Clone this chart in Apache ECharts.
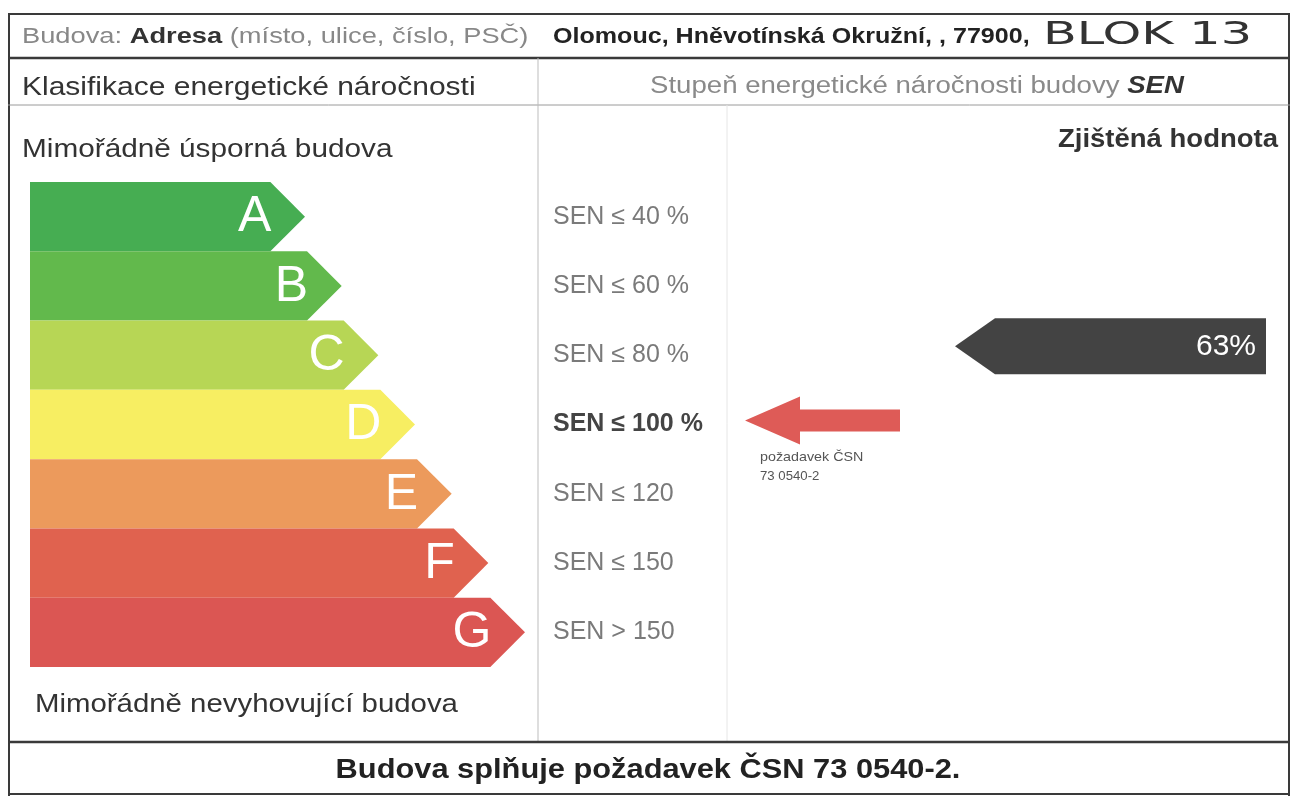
<!DOCTYPE html>
<html>
<head>
<meta charset="utf-8">
<script src="https://cdn.jsdelivr.net/npm/echarts@6/dist/echarts.min.js"></script>
<style>
  html, body { margin: 0; padding: 0; background: #fff; }
  #chart { width: 1296px; height: 796px; }
</style>
</head>
<body>
<div id="chart"></div>
<script>
// energeticke tridy a jejich hranice
var classes = ['A', 'B', 'C', 'D', 'E', 'F', 'G'];
var barSteps = [1, 2, 3, 4, 5, 6, 7];
var senLabels = ['SEN ≤ 40 %', 'SEN ≤ 60 %', 'SEN ≤ 80 %', 'SEN ≤ 100 %', 'SEN ≤ 120', 'SEN ≤ 150', 'SEN > 150'];
var barColors = ['#46ad52', '#62b94c', '#b7d655', '#f7ee62', '#ec9a5c', '#e0624f', '#db5653'];
var requiredClass = 3;      // D = pozadavek CSN
var measuredValue = 63;     // zjistena hodnota v %
var measuredClass = 2;      // C

var font = 'Liberation Sans';
var lineCol = '#3a3a3a';

var chart = echarts.init(document.getElementById('chart'));

function line(x1, y1, x2, y2, w, c) {
  return { type: 'line', shape: { x1: x1, y1: y1, x2: x2, y2: y2 }, style: { stroke: c || lineCol, lineWidth: w || 2 }, silent: true };
}
function txt(x, y, t, size, opt) {
  opt = opt || {};
  return {
    type: 'text', x: x, y: y, silent: true,
    style: {
      text: t, fontSize: size, fontFamily: opt.family || font,
      fontWeight: opt.bold ? 'bold' : 'normal', fontStyle: opt.italic ? 'italic' : 'normal',
      fill: opt.color || '#333', align: opt.align || 'left', verticalAlign: 'middle'
    },
    scaleX: opt.scaleX || 1
  };
}

chart.setOption({
  animation: false,
  textStyle: { fontFamily: font },
  grid: { left: 30, top: 182, width: 495, height: 485 },
  xAxis: { type: 'value', min: -6.5, max: 7, show: false },
  yAxis: {
    type: 'category', data: classes, inverse: true, position: 'right',
    axisLine: { show: false }, axisTick: { show: false }, splitLine: { show: false },
    axisLabel: {
      margin: 28, align: 'left', fontSize: 25, color: '#7a7a7a',
      formatter: function (v, i) {
        return i === requiredClass ? '{b|' + senLabels[i] + '}' : senLabels[i];
      },
      rich: { b: { fontSize: 25, fontWeight: 'bold', color: '#444' } }
    }
  },
  series: [
    {
      type: 'custom',
      encode: { x: 1, y: 0 },
      data: classes.map(function (c, i) { return [i, barSteps[i]]; }),
      renderItem: function (params, api) {
        var idx = api.value(0);
        var start = api.coord([-6.5, idx]);
        var end = api.coord([api.value(1), idx]);
        var h = api.size([0, 1])[1];
        var cy = start[1], y0 = cy - h / 2, y1 = cy + h / 2, d = h / 2;
        return {
          type: 'group',
          children: [
            {
              type: 'polygon',
              shape: { points: [[start[0], y0], [end[0] - d, y0], [end[0], cy], [end[0] - d, y1], [start[0], y1]] },
              style: { fill: barColors[idx] }
            },
            {
              type: 'text',
              style: {
                text: classes[idx], x: end[0] - d + 1, y: cy + 1,
                fill: '#fff', fontSize: 50, fontFamily: font,
                align: 'right', verticalAlign: 'middle'
              }
            }
          ]
        };
      }
    },
    {
      // cervena sipka - pozadavek
      type: 'custom',
      encode: { x: 1, y: 0 },
      data: [[requiredClass, 0]],
      renderItem: function (params, api) {
        var cy = api.coord([0, api.value(0)])[1] - 4;
        var tip = 745, base = 800, end = 900;
        return {
          type: 'group',
          children: [
            {
              type: 'polygon',
              shape: { points: [[tip, cy], [base, cy - 24], [base, cy - 11], [end, cy - 11], [end, cy + 11], [base, cy + 11], [base, cy + 24]] },
              style: { fill: '#de5b57' }
            },
            { type: 'text', x: 760, y: cy + 37, scaleX: 1.1, style: { text: 'požadavek ČSN', fontSize: 13, fontFamily: font, fill: '#555', verticalAlign: 'middle' } },
            { type: 'text', x: 760, y: cy + 56, scaleX: 1.1, style: { text: '73 0540-2', fontSize: 12, fontFamily: font, fill: '#555', verticalAlign: 'middle' } }
          ]
        };
      }
    },
    {
      // cerna sipka - zjistena hodnota
      type: 'custom',
      encode: { x: 1, y: 0 },
      data: [[measuredClass, measuredValue]],
      renderItem: function (params, api) {
        var cy = api.coord([0, api.value(0)])[1] - 9;
        var tip = 955, base = 995, end = 1266, h = 28;
        return {
          type: 'group',
          children: [
            {
              type: 'polygon',
              shape: { points: [[tip, cy], [base, cy - h], [end, cy - h], [end, cy + h], [base, cy + h]] },
              style: { fill: '#434343' }
            },
            { type: 'text', style: { text: api.value(1) + '%', x: 1256, y: cy + 1, fontSize: 30, fontFamily: font, fill: '#fff', align: 'right', verticalAlign: 'middle' } }
          ]
        };
      }
    }
  ],
  graphic: [
    // ramecek tabulky
    line(8, 14, 1290, 14, 2),
    line(9, 14, 9, 796, 2),
    line(1289, 14, 1289, 796, 2),
    line(8, 58, 1290, 58, 2.5),
    line(8, 105, 1290, 105, 1, '#9a9a9a'),
    line(538, 58, 538, 742, 1, '#bdbdbd'),
    line(727, 105, 727, 742, 1, '#e6e6e6'),
    line(8, 742, 1290, 742, 2.5),
    line(8, 794, 1290, 794, 2),
    // hlavicka
    {
      type: 'text', x: 22, y: 37, silent: true, scaleX: 1.24,
      style: {
        text: '{g|Budova: }{b|Adresa}{g| (místo, ulice, číslo, PSČ)}',
        verticalAlign: 'middle', fontFamily: font,
        rich: {
          g: { fontSize: 22, fill: '#888', fontFamily: font },
          b: { fontSize: 22, fill: '#333', fontWeight: 'bold', fontFamily: font }
        }
      }
    },
    txt(553, 37, 'Olomouc, Hněvotínská Okružní, , 77900,', 22, { bold: true, color: '#222', scaleX: 1.14 }),
    txt(1043, 36, 'BLOK 13', 32, { color: '#333', family: 'DejaVu Sans', scaleX: 1.54 }),
    txt(22, 88, 'Klasifikace energetické náročnosti', 25, { color: '#333', scaleX: 1.2 }),
    {
      type: 'text', x: 650, y: 87, silent: true, scaleX: 1.2,
      style: {
        text: '{g|Stupeň energetické náročnosti budovy }{b|SEN}',
        verticalAlign: 'middle', fontFamily: font,
        rich: {
          g: { fontSize: 23, fill: '#8a8a8a', fontFamily: font },
          b: { fontSize: 23, fill: '#333', fontWeight: 'bold', fontStyle: 'italic', fontFamily: font }
        }
      }
    },
    txt(22, 150, 'Mimořádně úsporná budova', 25, { color: '#333', scaleX: 1.19 }),
    txt(1278, 140, 'Zjištěná hodnota', 25, { color: '#333', bold: true, align: 'right', scaleX: 1.1 }),
    txt(35, 705, 'Mimořádně nevyhovující budova', 25, { color: '#333', scaleX: 1.175 }),
    txt(648, 770, 'Budova splňuje požadavek ČSN 73 0540-2.', 28, { color: '#222', bold: true, align: 'center', scaleX: 1.1 })
  ]
});
</script>
</body>
</html>
